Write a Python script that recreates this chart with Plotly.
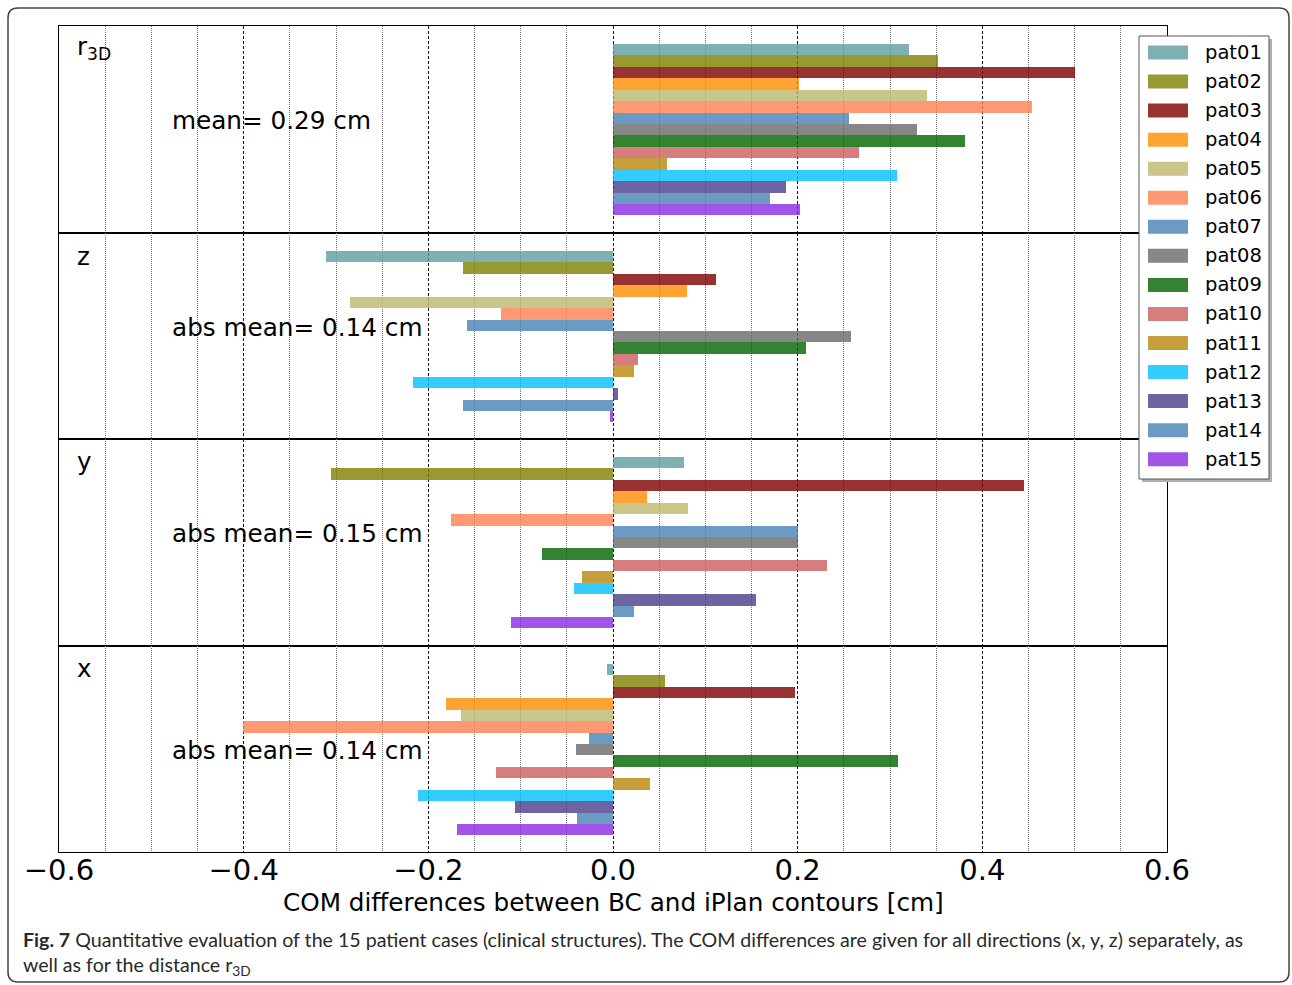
import plotly.graph_objects as go
from plotly.subplots import make_subplots

patients = [f"pat{i:02d}" for i in range(1, 16)]
colors = [
    "rgba(95,158,160,0.8)", "rgba(128,128,0,0.8)", "rgba(128,0,0,0.8)",
    "rgba(255,140,0,0.8)", "rgba(189,183,107,0.8)", "rgba(255,127,80,0.8)",
    "rgba(70,130,180,0.8)", "rgba(105,105,105,0.8)", "rgba(0,100,0,0.8)",
    "rgba(205,92,92,0.8)", "rgba(184,134,11,0.8)", "rgba(0,191,255,0.8)",
    "rgba(72,61,139,0.8)", "rgba(70,130,180,0.8)", "rgba(138,43,226,0.8)",
]

r3d = [0.321, 0.352, 0.500, 0.201, 0.340, 0.454, 0.256, 0.329, 0.381, 0.266,
       0.058, 0.308, 0.187, 0.170, 0.202]
dz = [-0.311, -0.162, 0.112, 0.080, -0.285, -0.121, -0.158, 0.258, 0.209, 0.027,
      0.023, -0.217, 0.005, -0.163, -0.003]
dy = [0.077, -0.305, 0.445, 0.037, 0.081, -0.175, 0.200, 0.200, -0.077, 0.232,
      -0.034, -0.042, 0.155, 0.023, -0.110]
dx = [-0.006, 0.056, 0.197, -0.181, -0.165, -0.401, -0.026, -0.040, 0.309, -0.127,
      0.040, -0.211, -0.106, -0.039, -0.169]

panel_values = [r3d, dz, dy, dx]
panel_labels = ["r<sub>3D</sub>", "z", "y", "x"]
mean_labels = ["mean= 0.29 cm", "abs mean= 0.14 cm", "abs mean= 0.15 cm", "abs mean= 0.14 cm"]
xlabel = "COM differences between BC and iPlan contours [cm]"
caption1 = ("<b>Fig. 7</b> Quantitative evaluation of the 15 patient cases (clinical structures). "
            "The COM differences are given for all directions (x, y, z) separately, as")
caption2 = "well as for the distance r<sub>3D</sub>"

W, H = 1292, 985
L, R, T, B = 59, 1167, 26, 852
FONT = "DejaVu Sans"
CAPFONT = "Lato"


def px(xp):
    return (xp - L) / (R - L)


def py(yp):
    return (B - yp) / (B - T)


fig = make_subplots(rows=4, cols=1, shared_xaxes=True, vertical_spacing=0)

for k, vals in enumerate(panel_values):
    fig.add_trace(go.Bar(
        y=list(range(len(patients))), x=vals, orientation="h", width=1,
        marker=dict(color=colors, line=dict(width=0)),
        showlegend=False, hoverinfo="x+text", text=patients, textposition="none",
    ), row=k + 1, col=1)

for k in range(4):
    fig.update_xaxes(
        range=[-0.6, 0.6], tick0=0, dtick=0.2, tickformat=".1f",
        showgrid=True, gridcolor="#111", griddash="3px,2px", gridwidth=1,
        minor=dict(tick0=0, dtick=0.05, showgrid=True, gridcolor="#777",
                   griddash="1px,1px", gridwidth=1),
        zeroline=False, showline=True, mirror=True, linecolor="black", linewidth=1.4,
        showticklabels=(k == 3), ticks="", ticklabelstandoff=-8,
        tickfont=dict(size=29, color="black", family=FONT),
        row=k + 1, col=1)
    fig.update_yaxes(
        range=[15.99, -2.08], showticklabels=False, showgrid=False, zeroline=False,
        showline=True, mirror=True, linecolor="black", linewidth=1.4, ticks="",
        row=k + 1, col=1)

annotations = []
label_y = [48, 256, 462, 668]
mean_y = [121, 327, 533, 750]
for k in range(4):
    annotations.append(dict(
        x=px(75), y=py(label_y[k]), xref="paper", yref="paper", text=panel_labels[k],
        showarrow=False, xanchor="left", yanchor="middle",
        font=dict(size=24.5, color="black", family=FONT)))
    annotations.append(dict(
        x=px(170), y=py(mean_y[k]), xref="paper", yref="paper", text=mean_labels[k],
        showarrow=False, xanchor="left", yanchor="middle",
        font=dict(size=24.7, color="black", family=FONT)))

annotations.append(dict(
    x=0.5, y=py(902), xref="paper", yref="paper", text=xlabel, showarrow=False,
    xanchor="center", yanchor="middle", font=dict(size=24.7, color="black", family=FONT)))

annotations.append(dict(
    x=px(21), y=py(939), xref="paper", yref="paper", text=caption1, showarrow=False,
    xanchor="left", yanchor="middle",
    font=dict(size=19.6, color="#2a2a2a", family=CAPFONT)))
annotations.append(dict(
    x=px(21), y=py(966), xref="paper", yref="paper", text=caption2, showarrow=False,
    xanchor="left", yanchor="middle",
    font=dict(size=19.6, color="#2a2a2a", family=CAPFONT)))

shapes = []
# outer rounded frame
fx0, fx1, fy0, fy1, rad = 8, 1289, 8, 982, 10
path = (f"M {px(fx0+rad)} {py(fy0)} L {px(fx1-rad)} {py(fy0)} "
        f"Q {px(fx1)} {py(fy0)} {px(fx1)} {py(fy0+rad)} "
        f"L {px(fx1)} {py(fy1-rad)} Q {px(fx1)} {py(fy1)} {px(fx1-rad)} {py(fy1)} "
        f"L {px(fx0+rad)} {py(fy1)} Q {px(fx0)} {py(fy1)} {px(fx0)} {py(fy1-rad)} "
        f"L {px(fx0)} {py(fy0+rad)} Q {px(fx0)} {py(fy0)} {px(fx0+rad)} {py(fy0)} Z")
shapes.append(dict(type="path", path=path, xref="paper", yref="paper",
                   line=dict(color="#444", width=1.5), layer="below"))

# legend box with shadow
lx0, lx1, ly0, ly1 = 1139, 1269, 36, 479
shapes.append(dict(type="rect", xref="paper", yref="paper",
                   x0=px(lx0 + 3), x1=px(lx1 + 3), y0=py(ly1 + 3), y1=py(ly0 + 3),
                   fillcolor="#b0b0b0", line=dict(width=0), layer="above"))
shapes.append(dict(type="rect", xref="paper", yref="paper",
                   x0=px(lx0), x1=px(lx1), y0=py(ly1), y1=py(ly0),
                   fillcolor="white", line=dict(color="#555", width=1), layer="above"))
for i, name in enumerate(patients):
    cy = 52.5 + 29.05 * i
    shapes.append(dict(type="rect", xref="paper", yref="paper",
                       x0=px(1148), x1=px(1188), y0=py(cy + 7), y1=py(cy - 7),
                       fillcolor=colors[i], line=dict(width=0), layer="above"))
    annotations.append(dict(
        x=px(1203), y=py(cy), xref="paper", yref="paper", text=name, showarrow=False,
        xanchor="left", yanchor="middle", font=dict(size=19.5, color="black", family=FONT)))

fig.update_layout(
    width=W, height=H,
    margin=dict(l=L, r=W - R, t=T, b=H - B),
    plot_bgcolor="white", paper_bgcolor="white",
    font=dict(family=FONT, color="black"),
    bargap=0, showlegend=False,
    annotations=annotations, shapes=shapes,
)

fig.write_html("out.html", config={"displayModeBar": False},
               post_script="document.body.style.margin='0';")
